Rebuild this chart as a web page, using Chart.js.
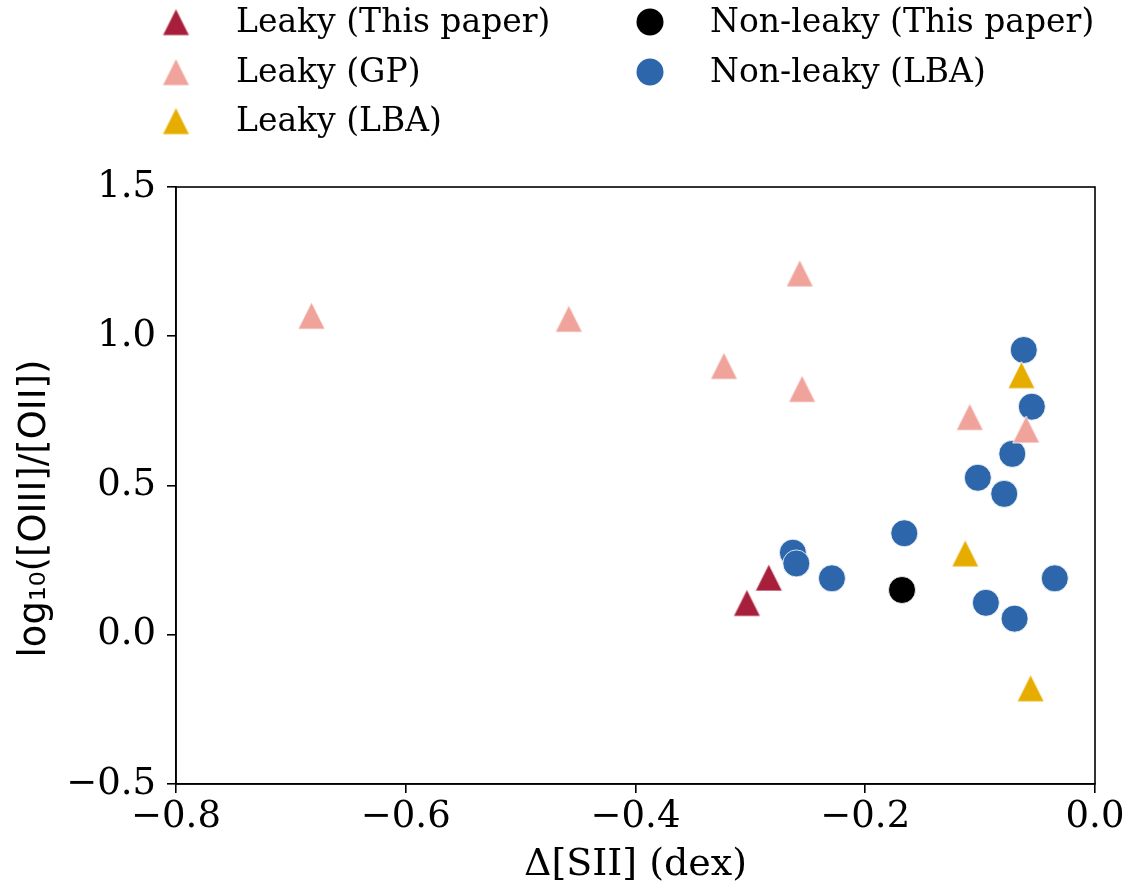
<!DOCTYPE html>
<html>
<head>
<meta charset="utf-8">
<title>Delta SII vs O32</title>
<script src="https://cdn.jsdelivr.net/npm/chart.js@4"></script>
<style>
  html, body { margin: 0; padding: 0; background: #fff; }
  #wrap { width: 1135px; height: 888px; position: relative; }
</style>
</head>
<body>
<div id="wrap"><canvas id="sii-chart"></canvas></div>
<script>
'use strict'

// Samples: Delta[SII] (dex) against log10([OIII]/[OII])
const leakyPaperX = [-0.303, -0.284];
const leakyPaperY = [0.107, 0.192];

const leakyGPX = [-0.682, -0.458, -0.323, -0.257, -0.255, -0.109, -0.060];
const leakyGPY = [1.069, 1.059, 0.901, 1.211, 0.824, 0.730, 0.688];

const leakyLBAX = [-0.064, -0.113, -0.056];
const leakyLBAY = [0.870, 0.273, -0.179];

const nonLeakyPaperX = [-0.168];
const nonLeakyPaperY = [0.150];

const nonLeakyLBAX = [-0.062, -0.055, -0.072, -0.102, -0.079, -0.166, -0.263, -0.260, -0.229, -0.035, -0.095, -0.070];
const nonLeakyLBAY = [0.954, 0.764, 0.606, 0.526, 0.472, 0.340, 0.275, 0.239, 0.189, 0.189, 0.107, 0.054];

const seriesLabels = ['Leaky (This paper)', 'Leaky (GP)', 'Leaky (LBA)', 'Non-leaky (This paper)', 'Non-leaky (LBA)'];

const xTicks = [-0.8, -0.6, -0.4, -0.2, 0.0];
const yTicks = [-0.5, 0.0, 0.5, 1.0, 1.5];

const yAxisLabel = 'log\u2081\u2080([OIII]/[OII])';
const xAxisLabel = '\u0394[SII] (dex)';

(() => {
  const SERIF = '"DejaVu Serif", serif';
  const SANS = '"DejaVu Sans", sans-serif';
  const MARKER = 27;

  // matplotlib-style '^' marker, centred on the point
  function makeTriangle(color) {
    const size = MARKER + 2;
    const c = document.createElement('canvas');
    c.width = size;
    c.height = size;
    const g = c.getContext('2d');
    const e = 1;
    g.beginPath();
    g.moveTo(size / 2, e);
    g.lineTo(size - e, size - e);
    g.lineTo(e, size - e);
    g.closePath();
    g.fillStyle = color;
    g.fill();
    g.strokeStyle = '#fff';
    g.lineWidth = 0.8;
    g.stroke();
    return c;
  }

  function toPoints(xs, ys) {
    return xs.map((x, i) => ({ x: x, y: ys[i] }));
  }

  function fmt(v) {
    return v.toFixed(1).replace('-', '\u2212');
  }

  const triangleSet = (label, xs, ys, color) => ({
    label: label,
    data: toPoints(xs, ys),
    pointStyle: makeTriangle(color),
    pointRadius: MARKER / 2,
    backgroundColor: color,
    markerColor: color
  });

  const circleSet = (label, xs, ys, color) => ({
    label: label,
    data: toPoints(xs, ys),
    pointStyle: 'circle',
    pointRadius: MARKER / 2,
    pointBorderWidth: 0.8,
    pointBorderColor: '#fff',
    backgroundColor: color,
    markerColor: color
  });

  // Legend in two columns above the axes (column-first fill)
  const legendSlots = [[176, 22], [176, 72], [176, 121], [650, 22], [650, 72]];

  const legendPlugin = {
    id: 'columnLegend',
    afterDraw(chart) {
      const ctx = chart.ctx;
      ctx.save();
      chart.data.datasets.forEach((ds, i) => {
        const [mx, my] = legendSlots[i];
        if (ds.pointStyle instanceof HTMLCanvasElement) {
          const img = ds.pointStyle;
          ctx.drawImage(img, mx - img.width / 2, my - img.height / 2);
        } else {
          ctx.beginPath();
          ctx.arc(mx, my, MARKER / 2, 0, Math.PI * 2);
          ctx.fillStyle = ds.markerColor;
          ctx.fill();
        }
        ctx.fillStyle = '#000';
        ctx.font = '33px ' + SERIF;
        ctx.textAlign = 'left';
        ctx.textBaseline = 'middle';
        ctx.fillText(ds.label, mx + 60, my + 1);
      });
      ctx.restore();
    }
  };

  // Closed frame around the plotting area, plus the rotated y label
  const framePlugin = {
    id: 'frame',
    afterDatasetsDraw(chart) {
      const { left, top, right, bottom } = chart.chartArea;
      const ctx = chart.ctx;
      ctx.save();
      ctx.strokeStyle = '#000';
      ctx.lineWidth = 1.6;
      ctx.strokeRect(left, top, right - left, bottom - top);

      ctx.translate(35, (top + bottom) / 2 + 23);
      ctx.rotate(-Math.PI / 2);
      ctx.fillStyle = '#000';
      ctx.font = '37px ' + SANS;
      ctx.textAlign = 'center';
      ctx.textBaseline = 'middle';
      ctx.fillText(yAxisLabel, 0, 0);
      ctx.restore();
    }
  };

  const tickGrid = {
    drawOnChartArea: false,
    drawTicks: true,
    tickLength: 9,
    color: '#000',
    lineWidth: 1.6
  };

  new Chart(document.getElementById('sii-chart'), {
    type: 'scatter',
    data: {
      datasets: [
        triangleSet(seriesLabels[0], leakyPaperX, leakyPaperY, '#a81f3c'),
        triangleSet(seriesLabels[1], leakyGPX, leakyGPY, '#efa39b'),
        triangleSet(seriesLabels[2], leakyLBAX, leakyLBAY, '#e6ac00'),
        circleSet(seriesLabels[3], nonLeakyPaperX, nonLeakyPaperY, '#000000'),
        circleSet(seriesLabels[4], nonLeakyLBAX, nonLeakyLBAY, '#2d66aa')
      ]
    },
    options: {
      responsive: true,
      maintainAspectRatio: false,
      animation: false,
      layout: { padding: { top: 187, right: 40, left: 0, bottom: 0 } },
      plugins: {
        legend: { display: false },
        tooltip: { enabled: false }
      },
      scales: {
        x: {
          type: 'linear',
          min: xTicks[0],
          max: xTicks[xTicks.length - 1],
          afterBuildTicks: axis => { axis.ticks = xTicks.map(v => ({ value: v })); },
          afterFit: axis => { axis.height = 104; },
          grid: tickGrid,
          border: { display: true, color: '#000', width: 1.6 },
          ticks: {
            color: '#000',
            font: { family: SERIF, size: 37 },
            padding: 2,
            maxRotation: 0,
            callback: v => fmt(v)
          },
          title: {
            display: true,
            text: xAxisLabel,
            color: '#000',
            font: { family: SERIF, size: 38 },
            padding: { top: 0, bottom: 0 }
          }
        },
        y: {
          type: 'linear',
          min: yTicks[0],
          max: yTicks[yTicks.length - 1],
          afterBuildTicks: axis => { axis.ticks = yTicks.map(v => ({ value: v })); },
          afterFit: axis => { axis.width = 176; },
          grid: tickGrid,
          border: { display: true, color: '#000', width: 1.6 },
          ticks: {
            color: '#000',
            font: { family: SERIF, size: 37 },
            padding: 11,
            callback: v => fmt(v)
          }
        }
      }
    },
    plugins: [legendPlugin, framePlugin]
  });
})();
</script>
</body>
</html>
